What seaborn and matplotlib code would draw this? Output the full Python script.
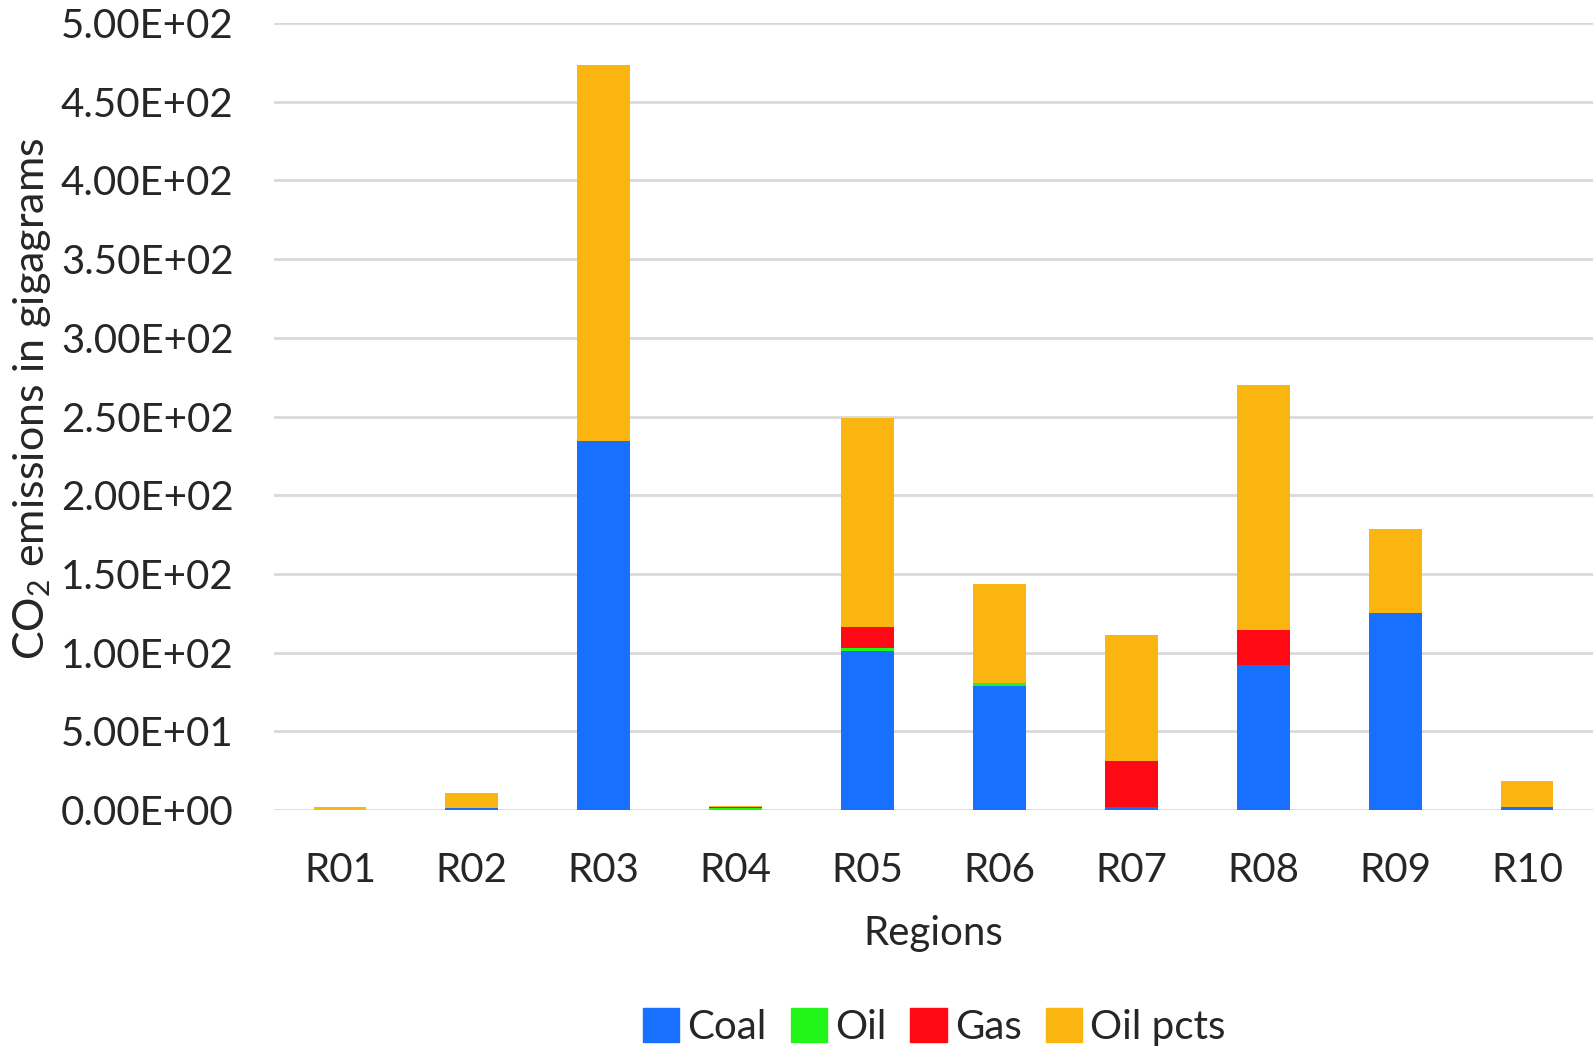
import numpy as np
import pandas as pd
import matplotlib
matplotlib.use("Agg")
import matplotlib.pyplot as plt
import matplotlib.patches as mpatches
from matplotlib.ticker import FuncFormatter
import seaborn as sns

# Data (gigagrams)
regions = ['R01', 'R02', 'R03', 'R04', 'R05', 'R06', 'R07', 'R08', 'R09', 'R10']
coal = [0.2, 1.3, 234.3, 0.3, 101.2, 78.8, 1.7, 92.1, 125.4, 1.9]
oil = [0.0, 0.0, 0.3, 0.8, 1.9, 1.9, 0.0, 0.0, 0.0, 0.0]
gas = [0.0, 0.0, 0.0, 1.0, 13.2, 0.0, 29.4, 22.5, 0.0, 0.0]
oil_pcts = [1.5, 9.7, 238.7, 0.6, 133.0, 63.2, 80.0, 155.2, 53.4, 16.5]

series = ['Coal', 'Oil', 'Gas', 'Oil pcts']
palette = {'Coal': '#1870FF', 'Oil': '#22F51A', 'Gas': '#FF0A14', 'Oil pcts': '#FAB511'}

df = pd.DataFrame({'Region': regions, 'Coal': coal, 'Oil': oil,
                   'Gas': gas, 'Oil pcts': oil_pcts})

sns.set_style("white")
plt.rcParams['font.family'] = ['Lato', 'DejaVu Sans']
plt.rcParams['mathtext.fontset'] = 'custom'
plt.rcParams['mathtext.rm'] = 'Lato'
plt.rcParams['mathtext.it'] = 'Lato'

fig = plt.figure(figsize=(15.94, 10.57), dpi=100)
ax = fig.add_axes([274 / 1594, 1 - 810 / 1057, (1593 - 274) / 1594, (810 - 23) / 1057])

# stacked bars
bottom = np.zeros(len(regions))
for s in series:
    sns.barplot(data=df, x='Region', y=s, color=palette[s], saturation=1,
                width=0.4, bottom=bottom, ax=ax, linewidth=0)
    bottom += df[s].values

ax.set_ylim(0, 500)
ax.set_yticks(np.arange(0, 501, 50))
ax.yaxis.set_major_formatter(FuncFormatter(lambda v, p: f"{v:.2E}"))
ax.grid(axis='y', color='#D9D9D9', linewidth=2)
ax.set_axisbelow(True)
for sp in ax.spines.values():
    sp.set_visible(False)
ax.tick_params(axis='both', length=0, labelsize=29)
ax.tick_params(axis='y', pad=29)
ax.tick_params(axis='x', pad=30)

ax.set_xlabel('Regions', fontsize=29, labelpad=19)
ax.set_ylabel('CO$_2$ emissions in gigagrams', fontsize=31)
ax.yaxis.set_label_coords(-0.1676, 0.522)

handles = [mpatches.Patch(color=palette[s], label=s) for s in series]
fig.legend(handles=handles, loc='center', bbox_to_anchor=(0.586, 1 - 1027 / 1057),
           ncol=4, frameon=False, fontsize=29, handlelength=0.9, handleheight=0.9,
           handletextpad=0.2, columnspacing=0.6)

fig.savefig('out.png', dpi=100)
